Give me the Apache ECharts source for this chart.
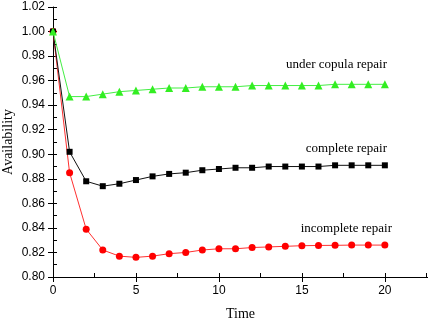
<!DOCTYPE html>
<html>
<head>
<meta charset="utf-8">
<script src="https://cdn.jsdelivr.net/npm/echarts@6/dist/echarts.min.js"></script>
<style>html,body{margin:0;padding:0;background:#fff}#c{width:428px;height:323px}</style>
</head>
<body>
<div id="c"></div>
<script>
const times = [0,1,2,3,4,5,6,7,8,9,10,11,12,13,14,15,16,17,18,19,20];
const copulaRepair = [1.000,0.947,0.947,0.949,0.951,0.952,0.953,0.954,0.954,0.955,0.955,0.955,0.956,0.956,0.956,0.956,0.956,0.957,0.957,0.957,0.957];
const completeRepair = [1.000,0.902,0.878,0.874,0.876,0.879,0.882,0.884,0.885,0.887,0.888,0.889,0.889,0.890,0.890,0.890,0.890,0.891,0.891,0.891,0.891];
const incompleteRepair = [1.000,0.885,0.839,0.822,0.817,0.816,0.817,0.819,0.820,0.822,0.823,0.823,0.824,0.8245,0.825,0.8255,0.8257,0.8258,0.826,0.826,0.826];
const seriesNames = ['under copula repair','complete repair','incomplete repair'];
const xTitle = 'Time';
const yTitle = 'Availability';

const pair = arr => times.map((t,i)=>[t,arr[i]]);
const serif = '"Liberation Serif","Times New Roman",serif';
const sans = '"Liberation Sans",Arial,sans-serif';
const chart = echarts.init(document.getElementById('c'), null, {renderer:'canvas'});
chart.setOption({
  animation:false,
  backgroundColor:'#fff',
  grid:{left:53,top:7,right:0,bottom:46,containLabel:false,outerBoundsMode:'none'},
  xAxis:[{
    type:'value',min:0,max:22.6,interval:5,position:'bottom',
    axisLine:{onZero:false,lineStyle:{color:'#000',width:1}},
    axisTick:{inside:false,length:5,lineStyle:{color:'#000'}},
    axisLabel:{color:'#000',fontFamily:sans,fontSize:12,margin:8,showMaxLabel:false,
      formatter:v=> (Math.abs(v%5)<1e-6? String(v):'')},
    splitLine:{show:false},
    name:xTitle,nameLocation:'middle',nameGap:30,nameMoveOverlap:false,
    nameTextStyle:{fontFamily:serif,fontSize:14,color:'#000'}
  },{
    type:'value',min:0,max:22.6,interval:2.5,position:'bottom',
    axisLine:{show:false,onZero:false},
    axisTick:{inside:true,length:4,lineStyle:{color:'#000'}},
    axisLabel:{show:false},splitLine:{show:false}
  }],
  yAxis:[{
    type:'value',min:0.80,max:1.02,interval:0.02,
    axisLine:{show:true,lineStyle:{color:'#000',width:1}},
    axisTick:{inside:false,length:5,lineStyle:{color:'#000'}},
    axisLabel:{color:'#000',fontFamily:sans,fontSize:12,margin:8,formatter:v=>v.toFixed(2)},
    splitLine:{show:false},
    name:yTitle,nameLocation:'middle',nameGap:38,nameMoveOverlap:false,
    nameTextStyle:{fontFamily:serif,fontSize:14,color:'#000'}
  },{
    type:'value',min:0.80,max:1.02,interval:0.01,
    axisLine:{show:false},position:'left',
    axisTick:{inside:true,length:4,lineStyle:{color:'#000'}},
    axisLabel:{show:false},splitLine:{show:false}
  }],
  series:[
    {name:seriesNames[2],type:'line',data:pair(incompleteRepair),symbol:'circle',symbolSize:7,z:2,
     lineStyle:{color:'#ff3030',width:1},itemStyle:{color:'#ff0000'}},
    {name:seriesNames[1],type:'line',data:pair(completeRepair),symbol:'rect',symbolSize:6,z:3,
     lineStyle:{color:'#111',width:1},itemStyle:{color:'#000'}},
    {name:seriesNames[0],type:'line',data:pair(copulaRepair),symbol:'triangle',symbolSize:8,z:4,
     lineStyle:{color:'#44ee44',width:1},itemStyle:{color:'#33ee22'}}
  ],
  graphic:[
    {type:'text',right:41,top:58,style:{text:seriesNames[0],font:'13px '+serif,fill:'#000'}},
    {type:'text',right:41,top:142,style:{text:seriesNames[1],font:'13px '+serif,fill:'#000'}},
    {type:'text',right:36,top:222,style:{text:seriesNames[2],font:'13px '+serif,fill:'#000'}}
  ]
});
</script>
</body>
</html>
